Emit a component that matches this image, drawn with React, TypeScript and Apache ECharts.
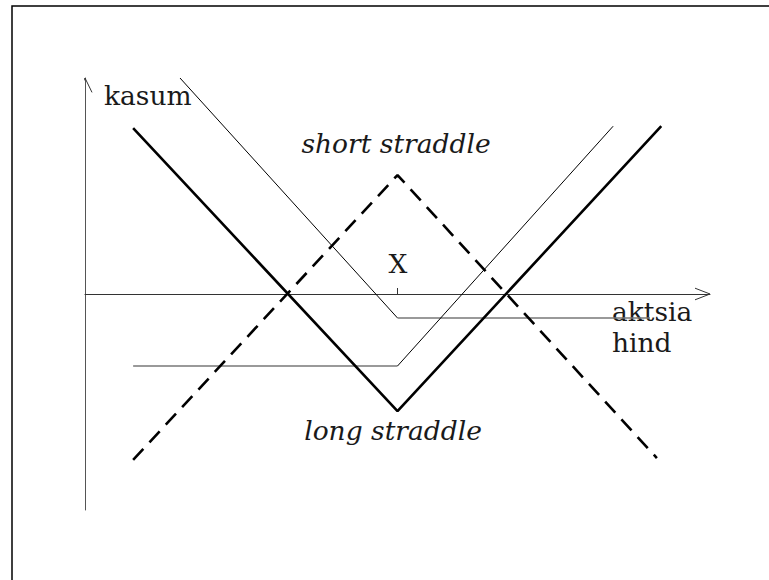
import React, { useEffect, useRef } from "react";
import * as echarts from "echarts";

// Strategy payoff diagrams (price on x, profit on y), strike X at 50
const strikeValue = [50];
const strikeLabel = ["X"];

const longStraddleX = [7.7, 50, 92.2];
const longStraddleY = [26.5, -18.7, 26.8];

const shortStraddleX = [7.7, 50, 91.5];
const shortStraddleY = [-26.5, 19.0, -26.2];

const longPutX = [15.2, 50, 90.4];
const longPutY = [34.5, -3.83, -3.83];

const longCallX = [7.7, 50, 84.5];
const longCallY = [-11.5, -11.5, 26.8];

// axis arrowheads (axis-end markers, in data units)
const xArrowX = [97.6, 100, 97.6];
const xArrowY = [0.93, 0, -0.93];
const yArrowX = [-1.12, 0, 1.12];
const yArrowY = [32.2, 34.5, 32.2];

const labelTexts = {
  y: "kasum",
  x1: "aktsia",
  x2: "hind",
  short: "short straddle",
  long: "long straddle",
};

const zip = (xs: number[], ys: number[]) => xs.map((x, i) => [x, ys[i]]);

const FONT = "DejaVu Serif";
const FS = 26.5;

export default function App() {
  const ref = useRef<HTMLDivElement>(null);
  useEffect(() => {
    document.body.style.margin = "0";
    if (!ref.current) return;
    const chart = echarts.init(ref.current, undefined, { renderer: "svg" });
    const thin = { color: "#000", width: 1 };
    const flat = { color: "#777", width: 1.5 };
    const put = zip(longPutX, longPutY);
    const call = zip(longCallX, longCallY);
    const txt = (text: string, x: number, y: number, italic: boolean, align: string) => ({
      type: "text",
      x,
      y,
      style: {
        text,
        font: `${italic ? "italic " : ""}${FS}px "${FONT}"`,
        fill: "#1a1a1a",
        textAlign: align,
        textVerticalAlign: "middle",
      },
    });
    chart.setOption({
      animation: false,
      backgroundColor: "#fff",
      grid: { left: 85, top: 78, width: 625, height: 432 },
      xAxis: {
        type: "value",
        min: 0,
        max: 100,
        axisLine: { show: true, onZero: true, lineStyle: { color: "#333", width: 1 } },
        axisTick: { show: true, inside: true, length: 6, customValues: strikeValue, lineStyle: { color: "#333" } },
        axisLabel: { show: false },
        splitLine: { show: false },
      },
      yAxis: {
        type: "value",
        min: -34.5,
        max: 34.5,
        axisLine: { show: true, onZero: true, lineStyle: { color: "#555", width: 1 } },
        axisTick: { show: false },
        axisLabel: { show: false },
        splitLine: { show: false },
      },
      series: [
        {
          type: "line",
          name: "x arrow",
          data: zip(xArrowX, xArrowY),
          symbol: "none",
          clip: false,
          lineStyle: { color: "#333", width: 1 },
        },
        {
          type: "line",
          name: "y arrow",
          data: zip(yArrowX, yArrowY),
          symbol: "none",
          clip: false,
          lineStyle: { color: "#333", width: 1 },
        },
        {
          type: "line",
          name: "long put",
          data: put.slice(0, 2),
          symbol: "none",
          clip: false,
          lineStyle: thin,
        },
        {
          type: "line",
          name: "long put flat",
          data: put.slice(1),
          symbol: "none",
          clip: false,
          lineStyle: flat,
        },
        {
          type: "line",
          name: "long call flat",
          data: call.slice(0, 2),
          symbol: "none",
          clip: false,
          lineStyle: flat,
        },
        {
          type: "line",
          name: "long call",
          data: call.slice(1),
          symbol: "none",
          clip: false,
          lineStyle: thin,
        },
        {
          type: "line",
          name: "long straddle",
          data: zip(longStraddleX, longStraddleY),
          symbol: "none",
          clip: false,
          lineStyle: { color: "#000", width: 2.6 },
        },
        {
          type: "line",
          name: "short straddle",
          data: zip(shortStraddleX, shortStraddleY),
          symbol: "none",
          clip: false,
          lineStyle: { color: "#000", width: 2.6, type: [15, 9], cap: "butt" },
        },
      ],
      graphic: [
        {
          type: "rect",
          shape: { x: 12, y: 6, width: 800, height: 700 },
          style: { fill: "none", stroke: "#000", lineWidth: 1.5 },
          silent: true,
        },
        txt(labelTexts.y, 104, 95, false, "left"),
        txt(labelTexts.short, 396, 143, true, "center"),
        txt(labelTexts.long, 393, 430, true, "center"),
        txt(labelTexts.x1, 612, 311, false, "left"),
        txt(labelTexts.x2, 612, 342, false, "left"),
        txt(strikeLabel[0], 398, 263, false, "center"),
      ],
    });
    return () => chart.dispose();
  }, []);
  return <div ref={ref} style={{ width: 769, height: 580 }} />;
}
